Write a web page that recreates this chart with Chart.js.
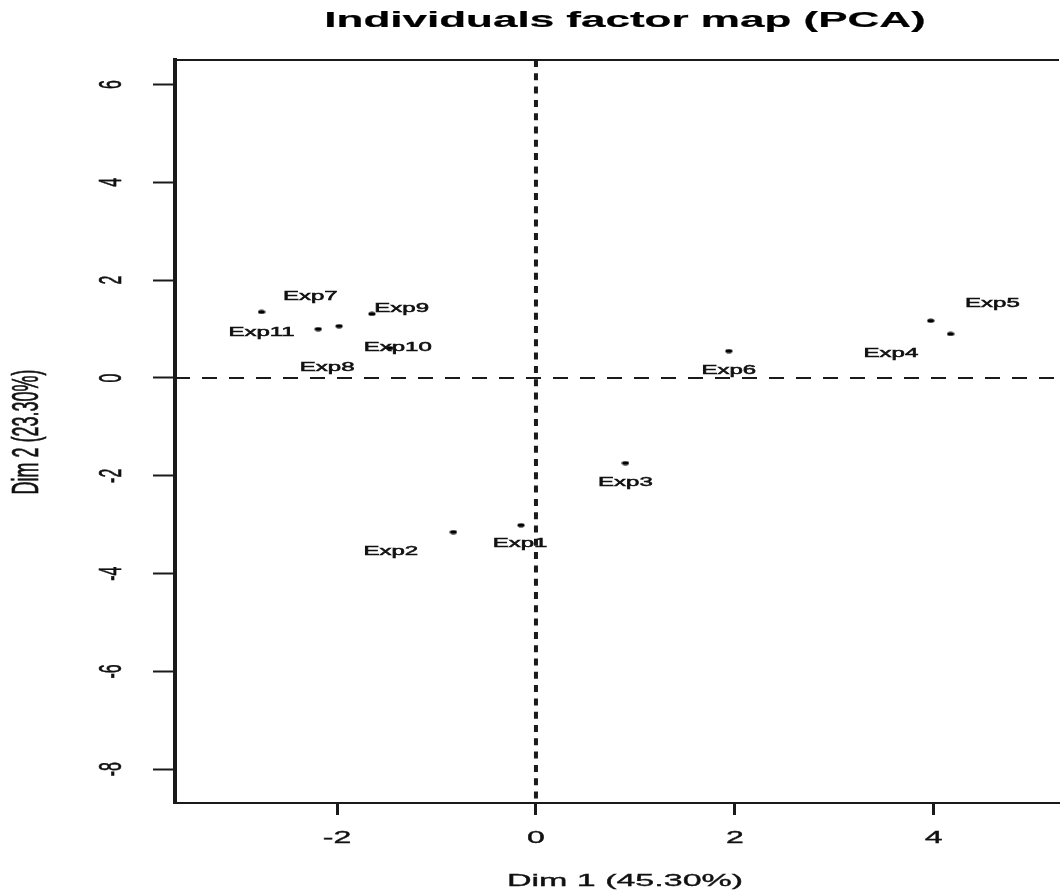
<!DOCTYPE html>
<html>
<head>
<style>
  body { margin: 0; background: #fff; overflow: hidden; }
  #wrap { width: 1064px; height: 890px; position: relative; }
</style>
</head>
<body>
<div id="wrap"><canvas id="canvas"></canvas></div>
<script src="https://cdn.jsdelivr.net/npm/chart.js"></script>
<script>
// individuals (coordinates on Dim 1 / Dim 2)
const dim1 = [-0.15, -0.83, 0.90, 4.17, 3.97, 1.94, -2.76, -2.19, -1.65, -1.47, -1.98];
const dim2 = [-3.01, -3.15, -1.74, 0.90, 1.17, 0.55, 1.35, 1.00, 1.31, 0.61, 1.06];

// label text and where the labels sit (moved off the points like in R)
const names = ['Exp1', 'Exp2', 'Exp3', 'Exp4', 'Exp5', 'Exp6', 'Exp7', 'Exp8', 'Exp9', 'Exp10', 'Exp11'];
const labelX = [-0.16, -1.46, 0.90, 3.57, 4.59, 1.94, -2.27, -2.10, -1.35, -1.39, -2.76];
const labelY = [-3.39, -3.56, -2.15, 0.49, 1.51, 0.14, 1.66, 0.20, 1.41, 0.61, 0.92];

const xTicks = [-2, 0, 2, 4];
const yTicks = [6, 4, 2, 0, -2, -4, -6, -8];
const xRange = [-3.63, 5.26];
const yRange = [-8.69, 6.50];

const titleText = 'Individuals factor map (PCA)';
const xTitle = 'Dim 1 (45.30%)';
const yTitle = 'Dim 2 (23.30%)';

const ink = '#1a1a1a';
const SX = 2; // the picture is stretched horizontally

// small flat dot like the R point
const dot = document.createElement('canvas');
dot.width = 8; dot.height = 5;
const dctx = dot.getContext('2d');
dctx.fillStyle = '#000';
dctx.beginPath();
dctx.ellipse(4, 2.5, 3.6, 2, 0, 0, Math.PI * 2);
dctx.fill();

function stretchText(ctx, text, x, y, font, opts) {
    opts = opts || {};
    ctx.save();
    ctx.font = font;
    ctx.fillStyle = opts.color || '#111';
    ctx.strokeStyle = opts.color || '#111';
    ctx.lineWidth = opts.weight || 0.35;
    ctx.textAlign = opts.align || 'center';
    ctx.textBaseline = opts.baseline || 'alphabetic';
    ctx.translate(x, y);
    ctx.scale(opts.sx || SX, 1);
    if (opts.rotate) ctx.rotate(-Math.PI / 2);
    ctx.fillText(text, 0, 0);
    ctx.strokeText(text, 0, 0);
    ctx.restore();
}

const factorMap = {
    id: 'factorMap',
    beforeDatasetsDraw(chart) {
        const {ctx, chartArea: a, scales: {x, y}} = chart;
        ctx.save();
        ctx.strokeStyle = ink;
        // top of the box
        ctx.lineWidth = 2;
        ctx.beginPath();
        ctx.moveTo(a.left, a.top);
        ctx.lineTo(a.right, a.top);
        ctx.stroke();
        // dashed axes through the origin
        const y0 = y.getPixelForValue(0);
        ctx.setLineDash([15, 12]);
        ctx.lineWidth = 2;
        ctx.beginPath();
        ctx.moveTo(a.left, y0);
        ctx.lineTo(a.right, y0);
        ctx.stroke();
        const x0 = x.getPixelForValue(0);
        ctx.setLineDash([7, 6.3]);
        ctx.lineWidth = 4;
        ctx.beginPath();
        ctx.moveTo(x0, a.top);
        ctx.lineTo(x0, a.bottom);
        ctx.stroke();
        ctx.restore();
    },
    afterDraw(chart) {
        const {ctx, scales: {x, y}} = chart;
        // title and axis titles
        stretchText(ctx, titleText, 625, 27, 'bold 22px "Liberation Sans", Arial, sans-serif', {color: '#000', weight: 0.2});
        stretchText(ctx, xTitle, 625, 886, '17px "Liberation Sans", Arial, sans-serif');
        stretchText(ctx, yTitle, 28, 432, '18px "Liberation Sans", Arial, sans-serif', {rotate: true, baseline: 'middle'});
        // tick labels
        x.ticks.forEach(t => {
            stretchText(ctx, String(t.value), x.getPixelForValue(t.value), 843, '16px "Liberation Sans", Arial, sans-serif');
        });
        y.ticks.forEach(t => {
            stretchText(ctx, String(t.value), 112, y.getPixelForValue(t.value), '16px "Liberation Sans", Arial, sans-serif', {rotate: true, baseline: 'middle'});
        });
        // individual labels
        names.forEach((n, i) => {
            stretchText(ctx, n, x.getPixelForValue(labelX[i]), y.getPixelForValue(labelY[i]), '12px "Liberation Sans", Arial, sans-serif', {baseline: 'middle', weight: 0.5});
        });
    }
};

const points = dim1.map((v, i) => ({x: v, y: dim2[i]}));

new Chart(document.getElementById('canvas'), {
    type: 'scatter',
    data: {
        datasets: [{
            data: points,
            pointStyle: dot,
            pointRadius: 3,
            backgroundColor: '#000',
            borderColor: '#000'
        }]
    },
    options: {
        responsive: true,
        maintainAspectRatio: false,
        animation: false,
        layout: {padding: {top: 60, left: 0, right: 0, bottom: 0}},
        plugins: {legend: {display: false}, tooltip: {enabled: false}, title: {display: false}},
        scales: {
            x: {
                type: 'linear',
                min: xRange[0], max: xRange[1],
                afterBuildTicks: s => { s.ticks = xTicks.map(v => ({value: v})); },
                afterFit: s => { s.height = 87; },
                ticks: {display: false},
                grid: {drawOnChartArea: false, drawTicks: true, tickLength: 12, tickColor: ink, tickWidth: 3},
                border: {color: ink, width: 2}
            },
            y: {
                type: 'linear',
                min: yRange[0], max: yRange[1],
                afterBuildTicks: s => { s.ticks = yTicks.map(v => ({value: v})); },
                afterFit: s => { s.width = 175; },
                ticks: {display: false},
                grid: {drawOnChartArea: false, drawTicks: true, tickLength: 22, tickColor: ink, tickWidth: 2},
                border: {color: ink, width: 4}
            }
        }
    },
    plugins: [factorMap]
});
</script>
</body>
</html>
